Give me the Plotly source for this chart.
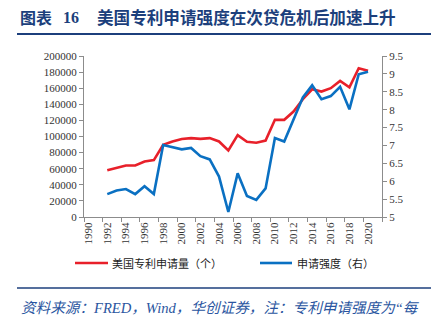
import plotly.graph_objects as go

years = [str(y) for y in range(1990, 2022)]
data_years = [str(y) for y in range(1992, 2021)]
patent_apps = [58000, 61200, 64000, 64000, 69000, 70700, 89700, 93800, 96800, 98000,
               97100, 98000, 93800, 82700, 101700, 93400, 92200, 95000, 120700, 120700,
               131000, 146300, 158700, 155800, 160000, 169000, 161200, 184800, 181800]
intensity = [5.64, 5.74, 5.78, 5.64, 5.86, 5.64, 7.01, 6.96, 6.89, 6.93,
             6.70, 6.61, 6.13, 5.14, 6.22, 5.59, 5.48, 5.80, 7.21, 7.11,
             7.73, 8.34, 8.68, 8.29, 8.38, 8.64, 8.01, 8.99, 9.06]
left_ticks = list(range(0, 200001, 20000))
right_ticks = [5, 5.5, 6, 6.5, 7, 7.5, 8, 8.5, 9, 9.5]
right_labels = ["5", "5.5", "6", "6.5", "7", "7.5", "8", "8.5", "9", "9.5"]
series_names = ["美国专利申请量（个）", "申请强度（右）"]

RED = "#E8202A"
BLUE = "#0A70C2"
NAVY = "#1C3F7C"
SERIF = "Liberation Serif, Noto Sans CJK SC"
CJK = "Noto Sans CJK SC"

fig = go.Figure()
fig.add_trace(go.Scatter(x=data_years, y=patent_apps, mode="lines", name=series_names[0],
                         line=dict(color=RED, width=2.6), showlegend=False))
fig.add_trace(go.Scatter(x=data_years, y=intensity, mode="lines", name=series_names[1],
                         yaxis="y2", line=dict(color=BLUE, width=2.6), showlegend=False))

W, H = 443, 325
L, R, T, B = 84, 382, 56, 217


def px(x):
    return (x - L) / (R - L)


def py(y):
    return (B - y) / (B - T)


axis_common = dict(showgrid=False, zeroline=False, showline=True, linecolor="#8c8c8c",
                   linewidth=1, ticks="outside", ticklen=4, tickcolor="#8c8c8c",
                   tickfont=dict(family=SERIF, size=11, color="#333333"))

fig.update_layout(
    width=W, height=H,
    margin=dict(l=L, r=W - R, t=T, b=H - B),
    paper_bgcolor="white", plot_bgcolor="white",
    showlegend=False,
    xaxis=dict(type="category", categoryorder="array", categoryarray=years,
               range=[-0.5, len(years) - 0.5], tickmode="linear", tick0=0, dtick=2,
               tickson="boundaries", tickangle=-90, **axis_common),
    yaxis=dict(range=[0, 200000], tickvals=left_ticks, ticktext=[str(v) for v in left_ticks],
               **axis_common),
    yaxis2=dict(range=[5, 9.5], tickvals=right_ticks, ticktext=right_labels,
                overlaying="y", side="right", **axis_common),
)

# Title
fig.add_annotation(xref="paper", yref="paper", x=px(18), y=py(17),
                   xanchor="left", yanchor="middle", showarrow=False,
                   text="<b>图表</b>", font=dict(family=CJK, size=16, color=NAVY))
fig.add_annotation(xref="paper", yref="paper", x=px(61), y=py(17),
                   xanchor="left", yanchor="middle", showarrow=False,
                   text="<b>16</b>", font=dict(family=SERIF, size=16, color=NAVY))
fig.add_annotation(xref="paper", yref="paper", x=px(95), y=py(17),
                   xanchor="left", yanchor="middle", showarrow=False,
                   text="<b>美国专利申请强度在次贷危机后加速上升</b>",
                   font=dict(family=CJK, size=16.6, color=NAVY))
# Title underline
fig.add_shape(type="line", xref="paper", yref="paper", x0=px(17), x1=px(431),
              y0=py(34), y1=py(34), line=dict(color=NAVY, width=2))
# Legend (manual)
fig.add_shape(type="line", xref="paper", yref="paper", x0=px(75), x1=px(108),
              y0=py(263), y1=py(263), line=dict(color=RED, width=2.6))
fig.add_annotation(xref="paper", yref="paper", x=px(110), y=py(263),
                   xanchor="left", yanchor="middle", showarrow=False,
                   text=series_names[0], font=dict(family=CJK, size=11, color="#222222"))
fig.add_shape(type="line", xref="paper", yref="paper", x0=px(260), x1=px(292),
              y0=py(263), y1=py(263), line=dict(color=BLUE, width=2.6))
fig.add_annotation(xref="paper", yref="paper", x=px(295), y=py(263),
                   xanchor="left", yanchor="middle", showarrow=False,
                   text=series_names[1], font=dict(family=CJK, size=11, color="#222222"))
# Bottom separator
fig.add_shape(type="line", xref="paper", yref="paper", x0=px(17), x1=px(431),
              y0=py(288), y1=py(288), line=dict(color=NAVY, width=1.5))
# Source
fig.add_annotation(xref="paper", yref="paper", x=px(19), y=py(308),
                   xanchor="left", yanchor="middle", showarrow=False,
                   text="<i>资料来源：FRED，Wind，华创证券，注：专利申请强度为“每</i>",
                   font=dict(family=SERIF, size=14.6, color="#2A55A0"))
fig.add_annotation(xref="paper", yref="paper", x=px(19), y=py(333),
                   xanchor="left", yanchor="middle", showarrow=False,
                   text="<i>百万人专利申请量”取对数，作者计算</i>",
                   font=dict(family=SERIF, size=14.6, color="#2A55A0"))

fig.write_html("out.html")
